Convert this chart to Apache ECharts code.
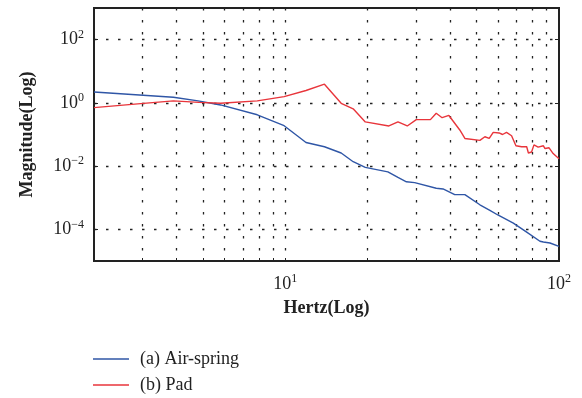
<!DOCTYPE html>
<html>
<head>
<meta charset="utf-8">
<script src="https://cdn.jsdelivr.net/npm/echarts@6/dist/echarts.min.js"></script>
<style>
  html, body { margin: 0; padding: 0; background: #fff; }
  #chart { width: 582px; height: 398px; }
</style>
</head>
<body>
<div id="chart"></div>
<script>
// Air-spring curve (Hz, magnitude)
const airFreq = [2, 3.9, 4.8, 5.8, 7.9, 9.9, 11.3, 11.9, 13.9, 16.0, 17.7, 19.6, 23.7, 25.8, 27.7, 29.7, 35.6, 37.7, 41.6, 45.3, 51.4, 55.9, 60.0, 68.1, 76.2, 85.2, 87.7, 92.7, 100]
const airMag = [2.2, 1.5, 1.16, 0.86, 0.42, 0.19, 0.079, 0.056, 0.041, 0.026, 0.0138, 0.0091, 0.0066, 0.0044, 0.0032, 0.0030, 0.0020, 0.0019, 0.00126, 0.00126, 0.00060, 0.00040, 0.00028, 0.000158, 8.2e-5, 4.2e-5, 4.0e-5, 3.7e-5, 2.9e-5]

// Pad curve
const padFreq = [2, 2.96, 3.9, 4.84, 5.8, 7.9, 9.9, 11.9, 13.9, 16.0, 17.7, 19.6, 23.9, 25.8, 27.9, 30.1, 33.9, 35.6, 37.4, 39.6, 43.4, 45.3, 51.4, 53.6, 55.6, 57.5, 60.4, 62.2, 64.3, 67.1, 69.6, 73.0, 76.2, 77.3, 79.4, 81.0, 83.9, 87.7, 88.9, 92.0, 95.2, 100]
const padMag = [0.71, 0.95, 1.16, 1.04, 0.97, 1.16, 1.58, 2.46, 3.9, 0.97, 0.65, 0.25, 0.186, 0.25, 0.186, 0.295, 0.295, 0.47, 0.34, 0.40, 0.139, 0.075, 0.065, 0.085, 0.075, 0.117, 0.112, 0.10, 0.117, 0.091, 0.044, 0.041, 0.041, 0.026, 0.028, 0.047, 0.040, 0.044, 0.036, 0.038, 0.025, 0.017]

const seriesNames = ["(a) Air-spring", "(b) Pad"]

// ticks / grid positions
const xLabelVals = [10, 100]
const xGridVals = [3, 4, 5, 6, 7, 8, 9, 10, 20, 30, 40, 50, 60, 70, 80, 90]
const yGridVals = [1e2, 1, 1e-2, 1e-4]

const FONT = "Liberation Serif"
const myChart = echarts.init(document.getElementById("chart"))

const zip = (xs, ys) => xs.map((x, i) => [x, ys[i]])

// 10^n label as rich text
function powLabel(v) {
  const e = Math.log10(v)
  const n = Math.round(e)
  if (Math.abs(e - n) > 1e-3) return ""
  const s = n < 0 ? "\u2212" + (-n) : String(n)
  return "{b|10}{s|" + s + "}"
}

const richSup = {
  b: { fontFamily: FONT, fontSize: 18, lineHeight: 22, color: "#222" },
  s: { fontFamily: FONT, fontSize: 12, lineHeight: 12, verticalAlign: "top", color: "#222" }
}

const dotted = { color: "#222", width: 1.3, type: [2.5, 9.5] }

const yBase = {
  type: "log",
  logBase: 10,
  min: 1e-5,
  max: 1e3,
  axisLine: { lineStyle: { color: "#222", width: 2 } },
  axisTick: { inside: true, length: 4, customValues: yGridVals, lineStyle: { color: "#222" } }
}

const option = {
  animation: false,
  backgroundColor: "#fff",
  grid: {
    left: 94, right: 23, top: 8, bottom: 137,
    show: true, borderColor: "#222", borderWidth: 2
  },
  legend: {
    orient: "vertical",
    left: 93,
    top: 349,
    padding: 0,
    icon: "rect",
    itemWidth: 36,
    itemHeight: 1.5,
    itemGap: 6,
    data: seriesNames,
    textStyle: { fontFamily: FONT, fontSize: 18, color: "#222", lineHeight: 20, padding: [0, 0, 0, 6] }
  },
  xAxis: {
    type: "log",
    logBase: 10,
    min: 2,
    max: 100,
    name: "Hertz(Log)",
    nameLocation: "middle",
    nameGap: 38,
    nameTextStyle: { fontFamily: FONT, fontSize: 18, fontWeight: "bold", color: "#222" },
    axisLine: { lineStyle: { color: "#222", width: 2 } },
    axisTick: { inside: true, length: 3, customValues: xGridVals, lineStyle: { color: "#222" } },
    splitLine: { show: true, lineStyle: dotted },
    axisLabel: {
      margin: 12,
      customValues: xLabelVals,
      formatter: v => powLabel(v),
      rich: richSup
    }
  },
  yAxis: [
    Object.assign({}, yBase, {
      position: "left",
      name: "Magnitude(Log)",
      nameLocation: "middle",
      nameGap: 58,
      nameTextStyle: { fontFamily: FONT, fontSize: 18, fontWeight: "bold", color: "#222" },
      splitLine: { show: true, lineStyle: dotted },
      axisLabel: {
        margin: 10,
        customValues: yGridVals,
        formatter: v => powLabel(v),
        rich: richSup
      }
    }),
    Object.assign({}, yBase, {
      position: "right",
      splitLine: { show: false },
      axisLabel: { show: false }
    })
  ],
  series: [
    {
      name: seriesNames[0],
      type: "line",
      data: zip(airFreq, airMag),
      showSymbol: false,
      z: 3,
      color: "#2f56a6",
      lineStyle: { width: 1.4, color: "#2f56a6" }
    },
    {
      name: seriesNames[1],
      type: "line",
      data: zip(padFreq, padMag),
      showSymbol: false,
      z: 3,
      color: "#e8353b",
      lineStyle: { width: 1.4, color: "#e8353b" }
    }
  ]
}

myChart.setOption(option)
</script>
</body>
</html>
